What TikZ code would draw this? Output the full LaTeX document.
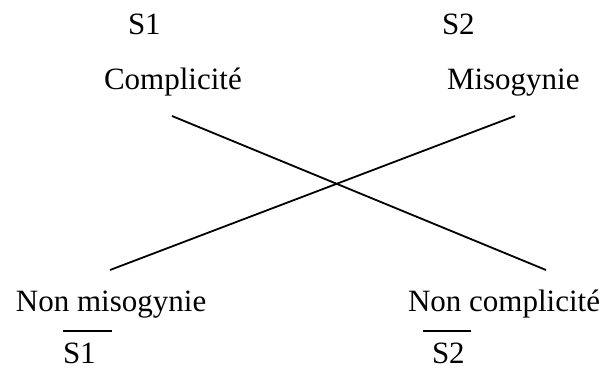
\documentclass[tikz,border=0pt]{standalone}
\usepackage{fontspec}
\setmainfont{Liberation Serif}
\begin{document}
\begin{tikzpicture}[x=1pt,y=-1pt,
  lbl/.style={anchor=base west,inner sep=0pt,outer sep=0pt,font=\fontsize{31}{34}\selectfont},
  axis/.style={line width=1.8pt},
  bar/.style={line width=1.5pt}]
\useasboundingbox (0,0) rectangle (608,367);
% top row: positive semes
\node[lbl] (s1) at (128,34) {S1};
\node[lbl] (s2) at (442,34) {S2};
\node[lbl] (compl) at (104,89) {Complicité};
\node[lbl] (miso) at (447,89) {Misogynie};
% bottom row: negated semes
\node[lbl] (nmiso) at (16,311) {Non misogynie};
\node[lbl] (ncompl) at (408,311) {Non complicité};
\node[lbl,text depth=0pt] (ns1) at (63,363) {S1};
\node[lbl,text depth=0pt] (ns2) at (432,363) {S2};
% bars over the negated symbols
\draw[bar] (63,331) -- (112,331);
\draw[bar] (423,331) -- (471,331);
% crossing diagonals
\coordinate (c1) at (172,116);
\coordinate (c2) at (546,270);
\coordinate (m1) at (515,116);
\coordinate (m2) at (110,270);
\draw[axis] (c1) -- (c2);
\draw[axis] (m1) -- (m2);
\end{tikzpicture}
\end{document}
